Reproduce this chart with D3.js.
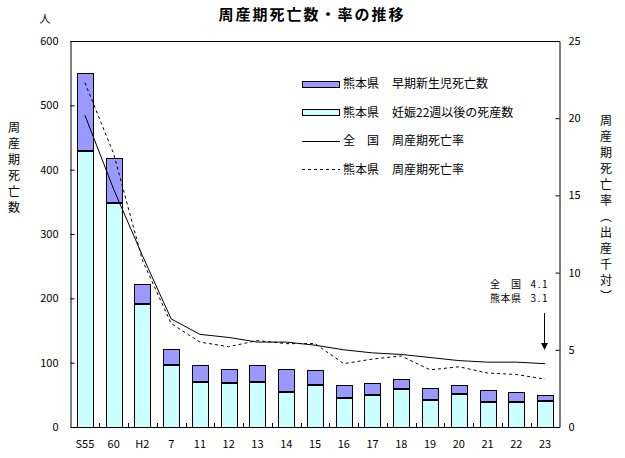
<!DOCTYPE html>
<html>
<head>
<meta charset="utf-8">
<script src="https://cdn.jsdelivr.net/npm/d3@7"></script>
<style>
  html, body { margin: 0; padding: 0; background: #fff; }
  svg { display: block; }
  text { font-family: "Noto Sans CJK JP", sans-serif; fill: #000; }
</style>
</head>
<body>
<svg id="chart" width="625" height="458"></svg>
<script>
// ---- data ----
const categories = ["S55","60","H2","7","11","12","13","14","15","16","17","18","19","20","21","22","23"];
const stillbirths = [431,349,193,98,71,70,72,56,67,47,52,61,44,53,40,40,42];      // 熊本県 妊娠22週以後の死産数
const earlyNeonatal = [120,69,30,24,26,20,25,34,21,19,16,13,16,12,17,15,7];        // 熊本県 早期新生児死亡数
const rateNational = [20.2,15.4,11.1,7.0,6.0,5.8,5.5,5.5,5.3,5.0,4.8,4.7,4.5,4.3,4.2,4.2,4.1];
const rateKumamoto = [22.3,17.7,10.8,6.7,5.5,5.2,5.6,5.4,5.4,4.1,4.4,4.6,3.7,3.9,3.5,3.4,3.1];
const leftTicks = [0,100,200,300,400,500,600];
const rightTicks = [0,5,10,15,20,25];
const legendLabels = [
  ["熊本県", "早期新生児死亡数"],
  ["熊本県", "妊娠22週以後の死産数"],
  ["全　国", "周産期死亡率"],
  ["熊本県", "周産期死亡率"]
];
const titleText = "周産期死亡数・率の推移";
const leftTitle = "周産期死亡数";
const rightTitle = ["周","産","期","死","亡","率","︵","出","産","千","対","︶"];
const noteLines = [["全　国", "4.1"], ["熊本県", "3.1"]];

const colEarly = "#9999FF", colStill = "#CCFFFF";

// ---- layout ----
const svg = d3.select("#chart");
const X0 = 70.5, X1 = 559.5, Y0 = 41, Y1 = 427;

const x = d3.scaleBand().domain(categories).range([X0, X1]).paddingInner(0.44).paddingOuter(0.22);
const yL = d3.scaleLinear().domain([0, 600]).range([Y1, Y0]);
const yR = d3.scaleLinear().domain([0, 25]).range([Y1, Y0]);

// title
svg.append("text").attr("x", 312).attr("y", 20).attr("text-anchor", "middle")
  .attr("font-size", 15).attr("font-weight", "bold").attr("letter-spacing", 2).text(titleText);
svg.append("text").attr("x", 45).attr("y", 23).attr("text-anchor", "middle").attr("font-size", 11).text("人");

// bars (stacked)
const rows = categories.map((c, i) => ({cat: c, still: stillbirths[i], early: earlyNeonatal[i]}));
const stack = d3.stack().keys(["still", "early"])(rows);
const colors = {still: colStill, early: colEarly};
stack.forEach(layer => {
  svg.append("g").selectAll("rect").data(layer).join("rect")
    .attr("x", d => Math.round(x(d.data.cat)) + 0.5)
    .attr("width", Math.round(x.bandwidth()))
    .attr("y", d => Math.round(yL(d[1])) + 0.5)
    .attr("height", d => Math.round(yL(d[0])) - Math.round(yL(d[1])))
    .attr("fill", colors[layer.key]).attr("stroke", "#000").attr("stroke-width", 1);
});
// thicker divider between segments
svg.append("g").selectAll("line").data(rows).join("line")
  .attr("x1", d => Math.round(x(d.cat)) + 0.5).attr("x2", d => Math.round(x(d.cat)) + 0.5 + Math.round(x.bandwidth()))
  .attr("y1", d => Math.round(yL(d.still)) + 1.5).attr("y2", d => Math.round(yL(d.still)) + 1.5)
  .attr("stroke", "#000").attr("stroke-width", 1);

// lines
const cx = c => x(c) + x.bandwidth() / 2;
const lineGen = d3.line().x((d, i) => cx(categories[i])).y(d => yR(d));
svg.append("path").datum(rateNational).attr("d", lineGen)
  .attr("fill", "none").attr("stroke", "#000").attr("stroke-width", 1);
svg.append("path").datum(rateKumamoto).attr("d", lineGen)
  .attr("fill", "none").attr("stroke", "#000").attr("stroke-width", 1).attr("stroke-dasharray", "3,3");

// axes
const axL = d3.axisLeft(yL).tickValues(leftTicks).tickSizeInner(-4).tickSizeOuter(0).tickPadding(12);
const gL = svg.append("g").attr("transform", `translate(${X0},0)`).call(axL);
const axR = d3.axisRight(yR).tickValues(rightTicks).tickSizeInner(-4).tickSizeOuter(0).tickPadding(9);
const gR = svg.append("g").attr("transform", `translate(${X1},0)`).call(axR);
const axB = d3.axisBottom(x).tickSize(0).tickPadding(13);
const gB = svg.append("g").attr("transform", `translate(0,${Y1})`).call(axB);
[gL, gR, gB].forEach(g => {
  g.selectAll("text").attr("font-size", 11).attr("font-family", "'Noto Sans CJK JP', sans-serif");
  g.selectAll("path, line").attr("stroke", "#000");
});
// top frame
svg.append("line").attr("x1", X0).attr("x2", X1).attr("y1", Y0 + 0.5).attr("y2", Y0 + 0.5).attr("stroke", "#000");
// inner ticks at category boundaries
const bounds = categories.slice(1).map(c => x(c) - x.step() * x.paddingInner() / 2);
svg.append("g").selectAll("line").data(bounds).join("line")
  .attr("x1", d => Math.round(d) + 0.5).attr("x2", d => Math.round(d) + 0.5)
  .attr("y1", Y1).attr("y2", Y1 - 4).attr("stroke", "#000");

// axis titles
svg.append("g").selectAll("text").data(leftTitle.split("")).join("text")
  .attr("x", 14).attr("y", (d, i) => 132 + i * 16).attr("text-anchor", "middle").attr("font-size", 12).text(d => d);
svg.append("g").selectAll("text").data(rightTitle).join("text")
  .attr("x", 606).attr("y", (d, i) => 125 + i * 16).attr("text-anchor", "middle").attr("font-size", 12).text(d => d);

// legend
const lg = svg.append("g");
legendLabels.forEach((lab, i) => {
  const yy = 83.5 + i * 28.6;
  if (i < 2) {
    lg.append("rect").attr("x", 302.5).attr("y", Math.round(yy - 3) + 0.5).attr("width", 37).attr("height", 6)
      .attr("fill", i === 0 ? colEarly : colStill).attr("stroke", "#000");
  } else {
    lg.append("line").attr("x1", 302).attr("x2", 340).attr("y1", Math.round(yy) + 0.5).attr("y2", Math.round(yy) + 0.5)
      .attr("stroke", "#000").attr("stroke-dasharray", i === 3 ? "3,3" : null);
  }
  lg.append("text").attr("x", 343).attr("y", yy + 4.5).attr("font-size", 12).text(lab[0]);
  lg.append("text").attr("x", 392).attr("y", yy + 4.5).attr("font-size", 12).text(lab[1]);
});

// annotation
noteLines.forEach((ln, i) => {
  const yy = 287.5 + i * 14.5;
  svg.append("text").attr("x", 490).attr("y", yy).attr("font-size", 10).attr("letter-spacing", 0.5).text(ln[0]);
  svg.append("text").attr("x", 549).attr("y", yy).attr("text-anchor", "end").attr("font-size", 10).attr("letter-spacing", 1.5).text(ln[1]);
});
const ax = Math.round(cx("23")) - 0.5;
svg.append("line").attr("x1", ax).attr("x2", ax).attr("y1", 313).attr("y2", 344).attr("stroke", "#000");
svg.append("path").attr("d", `M${ax - 3.5},343 L${ax + 3.5},343 L${ax},350 Z`).attr("fill", "#000");
</script>
</body>
</html>
